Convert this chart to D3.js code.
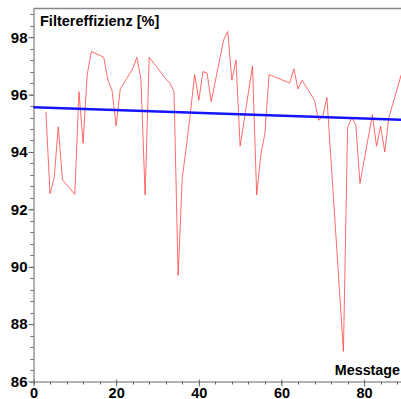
<!DOCTYPE html>
<html>
<head>
<meta charset="utf-8">
<script src="https://cdn.jsdelivr.net/npm/d3@7"></script>
<style>
  body { margin: 0; background: #fff; }
  svg { display: block; font-family: "Liberation Sans", Arial, sans-serif; }
  .axis path, .axis line { stroke: #666; }
  .axis text { fill: #000; font-weight: bold; font-size: 15px; }
</style>
</head>
<body>
<div id="chart"></div>
<script>
// Messtage (days) and filter efficiency readings
const days = [3, 4, 5, 6, 7, 10, 11, 12, 13, 14, 17, 18, 19, 20, 21, 24, 25, 26, 27, 28,
  32, 33, 34, 35, 36, 37, 38, 39, 40, 41, 42, 43, 46, 47, 48, 49, 50, 53, 54, 55,
  56, 57, 62, 63, 64, 65, 68, 69, 70, 71, 75, 76, 77, 78, 79, 82, 83, 84, 85, 86, 89];
const efficiency = [95.4, 92.55, 93.1, 94.88, 93.03, 92.52, 96.1, 94.3, 96.7, 97.5, 97.3, 96.5, 96.15, 94.9, 96.2, 96.9, 97.3, 96.55, 92.5, 97.3,
  96.55, 96.4, 96.1, 89.7, 93.1, 94.2, 95.4, 96.7, 95.8, 96.8, 96.75, 95.75, 97.9, 98.2, 96.5, 97.2, 94.2, 97.0, 92.5, 93.9,
  94.65, 96.7, 96.4, 96.9, 96.2, 96.5, 95.8, 95.1, 95.25, 95.9, 87.05, 94.85, 95.2, 94.95, 92.9, 95.3, 94.2, 94.9, 94.0, 95.2, 96.7];

// trend line end points
const trendDays = [0, 89];
const trendValues = [95.56, 95.12];

const xTicks = [0, 20, 40, 60, 80];
const yTicks = [86, 88, 90, 92, 94, 96, 98];
const xMinor = d3.range(0, 90, 4);
const yMinor = d3.range(86, 99.01, 0.4);

const width = 401;
const height = 399;

const svg = d3.select('#chart').append('svg')
  .attr('width', width)
  .attr('height', height);

const xScale = d3.scaleLinear().domain([0, 89]).range([33.5, 401.3]);
const yScale = d3.scaleLinear().domain([86, 99]).range([381.5, 8.5]);

// top frame line
svg.append('line')
  .attr('x1', 33.5).attr('x2', width)
  .attr('y1', 8.5).attr('y2', 8.5)
  .attr('stroke', '#888').attr('stroke-width', 1.5);

// minor ticks
svg.append('g').selectAll('line').data(yMinor).join('line')
  .attr('x1', 30.5).attr('x2', 33.5)
  .attr('y1', d => Math.round(yScale(d)) + 0.5).attr('y2', d => Math.round(yScale(d)) + 0.5)
  .attr('stroke', '#666');
svg.append('g').selectAll('line').data(xMinor).join('line')
  .attr('x1', d => Math.round(xScale(d)) + 0.5).attr('x2', d => Math.round(xScale(d)) + 0.5)
  .attr('y1', 381.5).attr('y2', 384.5)
  .attr('stroke', '#666');

// Y axis
svg.append('g')
  .attr('class', 'axis')
  .attr('transform', 'translate(33.5,0)')
  .call(d3.axisLeft(yScale).tickValues(yTicks).tickSize(5).tickSizeOuter(0).tickPadding(1));

// X axis
const xAxis = svg.append('g')
  .attr('class', 'axis')
  .attr('transform', 'translate(0,381.5)')
  .call(d3.axisBottom(xScale).tickValues(xTicks).tickSize(5).tickSizeOuter(0).tickPadding(1));
xAxis.selectAll('.tick line').attr('y1', -2);
xAxis.selectAll('.tick text').style('font-size', '14.5px');

// data line
const line = d3.line()
  .x(d => xScale(d[0]))
  .y(d => yScale(d[1]));

svg.append('path')
  .datum(days.map((d, i) => [d, efficiency[i]]))
  .attr('d', line)
  .attr('fill', 'none')
  .attr('stroke', '#ff3a3a')
  .attr('stroke-opacity', 0.75)
  .attr('stroke-width', 1);

// trend line
svg.append('path')
  .datum(trendDays.map((d, i) => [d, trendValues[i]]))
  .attr('d', line)
  .attr('fill', 'none')
  .attr('stroke', '#1414ff')
  .attr('stroke-width', 2.4);

// titles
svg.append('text')
  .attr('x', 40).attr('y', 26)
  .attr('font-weight', 'bold').attr('font-size', '14.5px')
  .text('Filtereffizienz [%]');

svg.append('text')
  .attr('x', 400).attr('y', 375)
  .attr('text-anchor', 'end')
  .attr('font-weight', 'bold').attr('font-size', '14.3px')
  .text('Messtage');
</script>
</body>
</html>
